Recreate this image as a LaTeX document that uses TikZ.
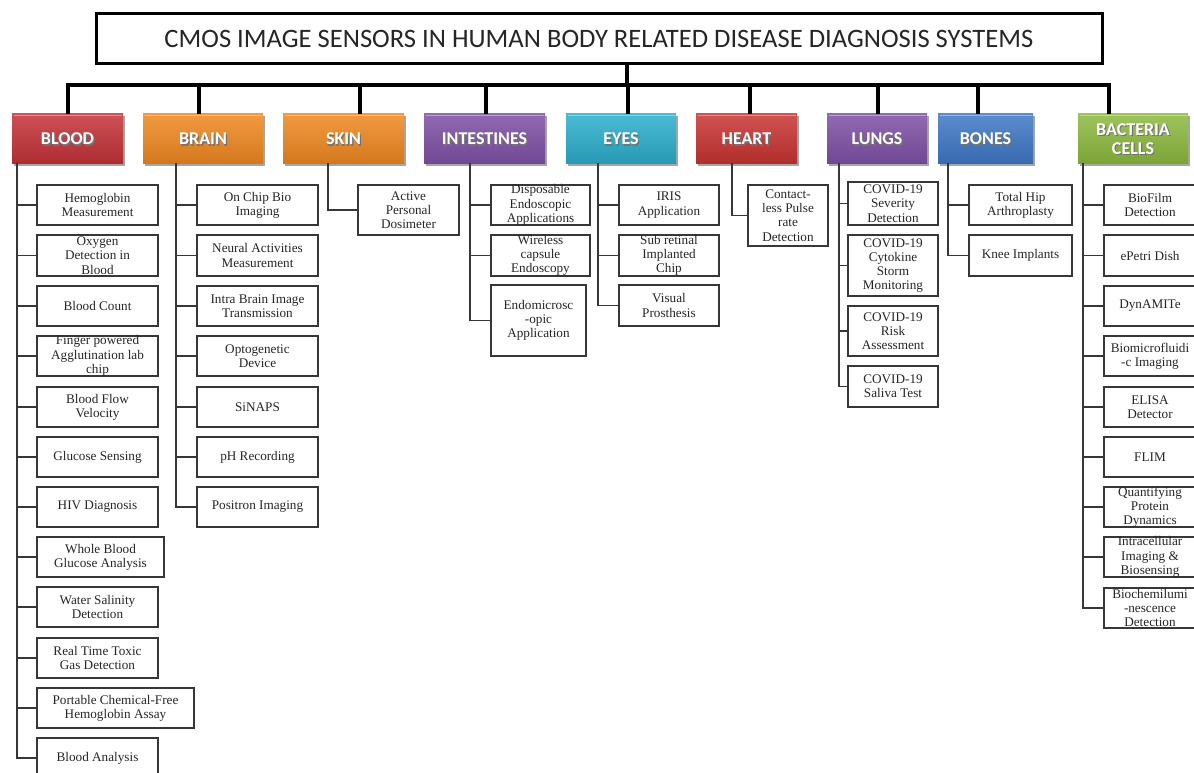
\documentclass[tikz,border=0pt]{standalone}
\usepackage{fontspec}
\setmainfont{Liberation Serif}
\newfontfamily\headfont{Carlito}
\usetikzlibrary{shadows}

\definecolor{bloodred}{RGB}{196,50,56}
\definecolor{brainorange}{RGB}{240,136,32}
\definecolor{gutpurple}{RGB}{126,80,166}
\definecolor{eyeteal}{RGB}{44,174,204}
\definecolor{heartred}{RGB}{200,52,50}
\definecolor{bonesblue}{RGB}{62,120,198}
\definecolor{germgreen}{RGB}{140,186,62}
\definecolor{leafline}{RGB}{55,55,55}

\tikzset{
  bus/.style={line width=3.4pt, black},
  twig/.style={line width=1.1pt, leafline},
  titlebox/.style={draw=black, line width=3pt, fill=white, inner sep=0pt, outer sep=0pt},
  leafbox/.style={draw=leafline, line width=1.2pt, fill=white, inner sep=0pt, outer sep=0pt},
  leaftext/.style={align=center, inner sep=0pt, font=\fontsize{13.2}{14.2}\selectfont, text=black!85},
  catbox/.style={inner sep=0pt, outer sep=0pt,
    drop shadow={shadow xshift=1.5pt, shadow yshift=-2pt, opacity=0.35, fill=black}},
  cattext/.style={align=center, inner sep=0pt, font=\headfont\bfseries\fontsize{18}{19}\selectfont, text=white},
}

% leaf box: name, x1, y1, x2, y2, text
\newcommand\leafnode[6]{%
  \node[leafbox, minimum width={(#4-#2)*1pt}, minimum height={(#5-#3)*1pt}]
    (#1) at ({(#2+#4)/2},{(#3+#5)/2}) {};
  \node[leaftext] at (#1.center) {#6};}

% category box: name, x1, x2, colour, text
\newcommand\catnode[5]{%
  \node[catbox, top color=#4!85!white, middle color=#4, bottom color=#4!88!black,
        minimum width={(#3-#2)*1pt}, minimum height=50pt]
    (#1) at ({(#2+#3)/2},139) {};
  \draw[#4!55!white, line width=1.2pt] ([shift={(1.5,1.2)}]#1.north west) -- ([shift={(-1.5,1.2)}]#1.north east);
  \node[cattext, text=black!55] at ([shift={(1.2,1.4)}]#1.center) {#5};
  \node[cattext] at (#1.center) {#5};}

\begin{document}
\begin{tikzpicture}[x=1pt,y=-1pt]
\clip (0,0) rectangle (1194,773);
\fill[white] (0,0) rectangle (1194,773);

% ---- title ----
\node[titlebox, minimum width=1006pt, minimum height=50pt] (title) at (599,39) {};
\node[inner sep=0pt, font=\headfont\fontsize{26.6}{28}\selectfont, text=black!85]
  at (title.center) {CMOS IMAGE SENSORS IN HUMAN BODY RELATED DISEASE DIAGNOSIS SYSTEMS};

% ---- categories ----
\catnode{blood}{12}{123}{bloodred}{BLOOD}
\catnode{brain}{143}{263}{brainorange}{BRAIN}
\catnode{skin}{283}{404}{brainorange}{SKIN}
\catnode{gut}{424}{545}{gutpurple}{INTESTINES}
\catnode{eyes}{566}{676}{eyeteal}{EYES}
\catnode{heart}{696}{797}{heartred}{HEART}
\catnode{lungs}{827}{927}{gutpurple}{LUNGS}
\catnode{bones}{938}{1033}{bonesblue}{BONES}
\catnode{germs}{1078}{1188}{germgreen}{BACTERIA\\CELLS}

% ---- bus from the title to every category ----
\coordinate (hub) at (627,85);
\coordinate (busL) at (68,85);
\coordinate (busR) at (1109,85);
\draw[bus] (title.south -| hub) -- (hub);
\draw[bus, line cap=rect] (busL) -- (busR);
\foreach \n/\x in {blood/68, brain/199, skin/360, gut/486, eyes/628,
                   heart/750, lungs/878, bones/978, germs/1109}
  \draw[bus] (\x,85) -- (\n.north -| \x,0);

% ---- BLOOD ----
\leafnode{b1}{37}{185}{158}{225}{Hemoglobin\\Measurement}
\leafnode{b2}{37}{235}{158}{276}{Oxygen\\Detection in\\Blood}
\leafnode{b3}{37}{286}{158}{326}{Blood Count}
\leafnode{b4}{37}{336}{158}{376}{Finger powered\\Agglutination lab\\chip}
\leafnode{b5}{37}{387}{158}{427}{Blood Flow\\Velocity}
\leafnode{b6}{37}{437}{158}{477}{Glucose Sensing}
\leafnode{b7}{37}{487}{158}{527}{HIV Diagnosis}
\leafnode{b8}{37}{537}{164}{577}{Whole Blood\\Glucose Analysis}
\leafnode{b9}{37}{587}{158}{627}{Water Salinity\\Detection}
\leafnode{b10}{37}{638}{158}{678}{Real Time Toxic\\Gas Detection}
\leafnode{b11}{37}{688}{194}{728}{Portable Chemical-Free\\Hemoglobin Assay}
\leafnode{b12}{37}{738}{158}{778}{Blood Analysis}
\coordinate (bloodT) at (17,163);
\foreach \k in {1,...,12} \draw[twig] (bloodT) |- (b\k.west);

% ---- BRAIN ----
\leafnode{r1}{197}{185}{318}{225}{On Chip Bio\\Imaging}
\leafnode{r2}{197}{235}{318}{276}{Neural Activities\\Measurement}
\leafnode{r3}{197}{286}{318}{326}{Intra Brain Image\\Transmission}
\leafnode{r4}{197}{336}{318}{376}{Optogenetic\\Device}
\leafnode{r5}{197}{387}{318}{427}{SiNAPS}
\leafnode{r6}{197}{437}{318}{477}{pH Recording}
\leafnode{r7}{197}{487}{318}{527}{Positron Imaging}
\coordinate (brainT) at (176,163);
\foreach \k in {1,...,7} \draw[twig] (brainT) |- (r\k.west);

% ---- SKIN ----
\leafnode{s1}{358}{185}{459}{235}{Active\\Personal\\Dosimeter}
\coordinate (skinT) at (328,163);
\draw[twig] (skinT) |- (s1.west);

% ---- INTESTINES ----
\leafnode{i1}{491}{185}{590}{225}{Disposable\\Endoscopic\\Applications}
\leafnode{i2}{491}{235}{590}{276}{Wireless\\capsule\\Endoscopy}
\leafnode{i3}{491}{285}{586}{356}{Endomicrosc\\-opic\\Application}
\coordinate (gutT) at (470,163);
\draw[twig] (gutT) |- (i1.west);
\draw[twig] (gutT) |- (i2.west);
\draw[twig] (gutT) |- (i3.west);

% ---- EYES ----
\leafnode{e1}{619}{185}{719}{225}{IRIS\\Application}
\leafnode{e2}{619}{235}{719}{276}{Sub retinal\\Implanted\\Chip}
\leafnode{e3}{619}{285}{719}{326}{Visual\\Prosthesis}
\coordinate (eyesT) at (598,163);
\foreach \k in {1,2,3} \draw[twig] (eyesT) |- (e\k.west);

% ---- HEART ----
\leafnode{h1}{748}{185}{828}{246}{Contact-\\less Pulse\\rate\\Detection}
\coordinate (heartT) at (732,163);
\draw[twig] (heartT) |- (h1.west);

% ---- LUNGS ----
\leafnode{l1}{848}{182}{938}{225}{COVID-19\\Severity\\Detection}
\leafnode{l2}{848}{235}{938}{296}{COVID-19\\Cytokine\\Storm\\Monitoring}
\leafnode{l3}{848}{306}{938}{356}{COVID-19\\Risk\\Assessment}
\leafnode{l4}{848}{366}{938}{407}{COVID-19\\Saliva Test}
\coordinate (lungsT) at (839,163);
\foreach \k in {1,...,4} \draw[twig] (lungsT) |- (l\k.west);

% ---- BONES ----
\leafnode{o1}{969}{185}{1072}{225}{Total Hip\\Arthroplasty}
\leafnode{o2}{969}{235}{1072}{276}{Knee Implants}
\coordinate (bonesT) at (948,163);
\draw[twig] (bonesT) |- (o1.west);
\draw[twig] (bonesT) |- (o2.west);

% ---- BACTERIA CELLS ----
\leafnode{g1}{1104}{185}{1196}{225}{BioFilm\\Detection}
\leafnode{g2}{1104}{235}{1196}{276}{ePetri Dish}
\leafnode{g3}{1104}{286}{1196}{326}{DynAMITe}
\leafnode{g4}{1104}{336}{1196}{376}{Biomicrofluidi\\-c Imaging}
\leafnode{g5}{1104}{387}{1196}{427}{ELISA\\Detector}
\leafnode{g6}{1104}{437}{1196}{477}{FLIM}
\leafnode{g7}{1104}{487}{1196}{527}{Quantifying\\Protein\\Dynamics}
\leafnode{g8}{1104}{537}{1196}{577}{Intracellular\\Imaging \&\\Biosensing}
\leafnode{g9}{1104}{588}{1196}{628}{Biochemilumi\\-nescence\\Detection}
\coordinate (germsT) at (1083,163);
\foreach \k in {1,...,9} \draw[twig] (germsT) |- (g\k.west);

\end{tikzpicture}
\end{document}
